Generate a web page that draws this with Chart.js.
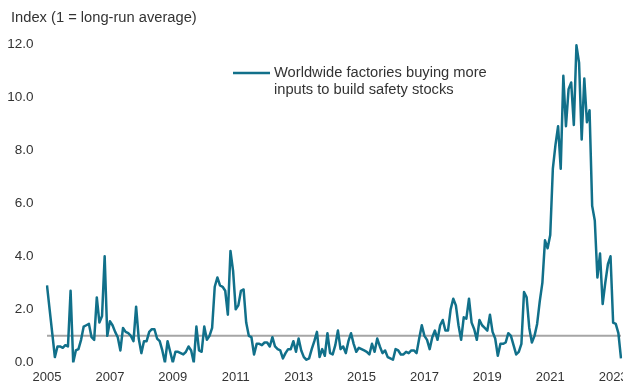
<!DOCTYPE html>
<html>
<head>
<meta charset="utf-8">
<script src="https://cdn.jsdelivr.net/npm/chart.js@4.4.0/dist/chart.umd.min.js"></script>
<style>
  body { margin: 0; background: #fff; }
  #wrap { position: relative; width: 623px; height: 384px; }
</style>
</head>
<body>
<div id="wrap"><canvas id="chart" width="623" height="384"></canvas></div>
<script>
// monthly index, Jan 2005 .. Apr 2023
const startYear = 2005;
const v2005 = [2.9, 2.0, 1.1, 0.2, 0.6, 0.6, 0.55, 0.65, 0.6, 2.7, 0.0, 0.45];
const v2006 = [0.5, 0.85, 1.35, 1.4, 1.45, 0.95, 0.85, 2.45, 1.5, 1.75, 4.0, 1.0];
const v2007 = [1.55, 1.4, 1.15, 0.95, 0.45, 1.3, 1.15, 1.1, 1.0, 0.8, 2.1, 0.9];
const v2008 = [0.35, 0.8, 0.8, 1.15, 1.25, 1.25, 0.9, 0.8, 0.45, 0.0, 0.8, 0.4];
const v2009 = [0.0, 0.4, 0.4, 0.35, 0.3, 0.4, 0.6, 0.45, 0.0, 1.35, 0.45, 0.4];
const v2010 = [1.35, 0.85, 1.0, 1.3, 2.85, 3.2, 2.9, 2.85, 2.7, 1.8, 4.2, 3.45];
const v2011 = [2.0, 2.15, 2.7, 2.75, 1.5, 1.0, 0.95, 0.3, 0.7, 0.7, 0.65, 0.75];
const v2012 = [0.75, 0.6, 0.95, 0.6, 0.5, 0.45, 0.15, 0.35, 0.5, 0.5, 0.8, 0.4];
const v2013 = [0.9, 0.45, 0.2, 0.1, 0.15, 0.5, 0.8, 1.15, 0.2, 0.5, 0.25, 1.1];
const v2014 = [0.35, 0.3, 0.65, 1.2, 0.5, 0.6, 0.35, 0.8, 1.1, 0.7, 0.4, 0.55];
const v2015 = [0.5, 0.45, 0.4, 0.3, 0.7, 0.4, 0.9, 0.6, 0.35, 0.45, 0.2, 0.15];
const v2016 = [0.1, 0.5, 0.45, 0.3, 0.3, 0.4, 0.35, 0.45, 0.45, 0.35, 0.9, 1.4];
const v2017 = [1.0, 0.85, 0.5, 0.95, 1.2, 0.85, 1.4, 1.6, 1.2, 1.2, 2.0, 2.4];
const v2018 = [2.15, 1.4, 0.85, 1.7, 1.65, 2.4, 1.5, 1.25, 0.85, 1.6, 1.4, 1.3];
const v2019 = [1.2, 1.8, 1.15, 0.9, 0.25, 0.7, 0.7, 0.75, 1.1, 1.0, 0.65, 0.3];
const v2020 = [0.4, 0.7, 2.65, 2.45, 1.3, 0.75, 1.0, 1.45, 2.3, 3.0, 4.6, 4.3];
const v2021 = [4.8, 7.3, 8.2, 8.9, 7.3, 10.8, 8.9, 10.3, 10.55, 8.95, 11.95, 11.3];
const v2022 = [8.4, 10.7, 9.05, 9.5, 5.9, 5.35, 3.2, 4.1, 2.2, 3.0, 3.7, 4.0];
const v2023 = [1.5, 1.45, 1.1, 0.15];

const tickYears = ['2005', '2007', '2009', '2011', '2013', '2015', '2017', '2019', '2021', '2023'];
const longRunAverage = 1;
const axisTitle = 'Index (1 = long-run average)';
const seriesName = ['Worldwide factories buying more', 'inputs to build safety stocks'];

const lineColor = '#11708a';
const textColor = '#333333';

const values = [].concat(v2005, v2006, v2007, v2008, v2009, v2010, v2011, v2012,
  v2013, v2014, v2015, v2016, v2017, v2018, v2019, v2020, v2021, v2022, v2023);
const months = values.map((_, i) =>
  `${startYear + Math.floor(i / 12)}-${String(i % 12 + 1).padStart(2, '0')}`);
const avgLine = months.map(() => longRunAverage);

Chart.defaults.font.family = '"Liberation Sans", Arial, sans-serif';
Chart.defaults.font.size = 13;
Chart.defaults.color = textColor;

// axis title and two-line legend drawn on top of the chart
const overlayText = {
  id: 'overlayText',
  afterDraw(chart) {
    const ctx = chart.ctx;
    ctx.save();
    ctx.font = '14.7px "Liberation Sans", Arial, sans-serif';
    ctx.fillStyle = textColor;
    ctx.textBaseline = 'middle';
    ctx.fillText(axisTitle, 11, 18);

    ctx.strokeStyle = lineColor;
    ctx.lineWidth = 2.5;
    ctx.beginPath();
    ctx.moveTo(233, 73);
    ctx.lineTo(270, 73);
    ctx.stroke();
    seriesName.forEach((t, i) => ctx.fillText(t, 274, 73 + i * 17));
    ctx.restore();
  }
};

new Chart(document.getElementById('chart'), {
  type: 'line',
  data: {
    labels: months,
    datasets: [
      {
        label: seriesName.join(' '),
        data: values,
        borderColor: lineColor,
        borderWidth: 2.5,
        borderJoinStyle: 'round',
        pointRadius: 0,
        tension: 0
      },
      {
        label: 'Long-run average',
        data: avgLine,
        borderColor: '#a6a6a6',
        borderWidth: 2,
        pointRadius: 0
      }
    ]
  },
  options: {
    responsive: false,
    animation: false,
    layout: { padding: { left: 0, right: 2, top: 44, bottom: 0 } },
    plugins: {
      legend: { display: false },
      title: { display: false },
      tooltip: { enabled: false }
    },
    scales: {
      x: {
        type: 'category',
        offset: false,
        grid: { display: false, drawTicks: false },
        border: { display: false },
        ticks: {
          autoSkip: false,
          maxRotation: 0,
          minRotation: 0,
          padding: 7,
          callback: function (value) {
            const lab = this.getLabelForValue(value);
            const [yr, mo] = lab.split('-');
            return (mo === '01' && tickYears.includes(yr)) ? yr : null;
          }
        },
        afterFit: (scale) => {
          scale.height = 20;
          scale.paddingLeft = 0;
          scale.paddingRight = 0;
        }
      },
      y: {
        min: 0,
        max: 12,
        grid: { display: false, drawTicks: false },
        border: { display: false },
        ticks: {
          stepSize: 2,
          padding: 13.5,
          font: { size: 13.5 },
          callback: (v) => v.toFixed(1)
        },
        afterFit: (scale) => {
          scale.width = 47;
        }
      }
    }
  },
  plugins: [overlayText]
});
</script>
</body>
</html>
